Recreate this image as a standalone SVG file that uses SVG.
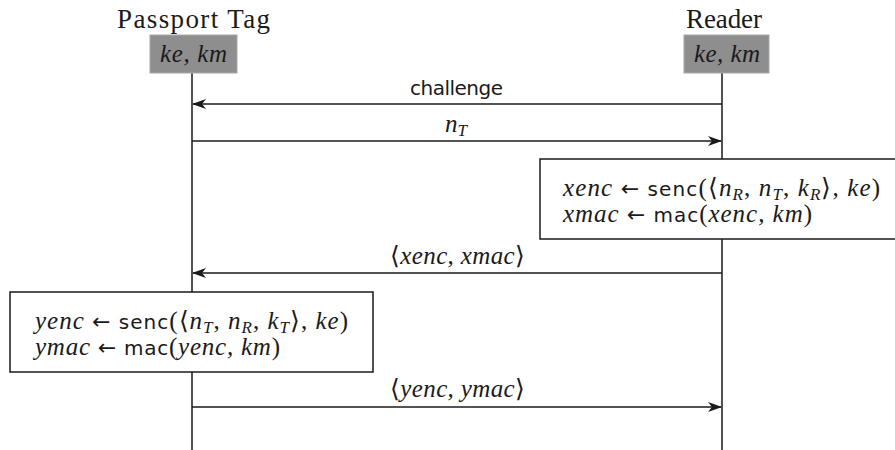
<svg xmlns="http://www.w3.org/2000/svg" width="895" height="450" viewBox="0 0 895 450">
<style>
.hd{font-family:"Liberation Serif",serif;font-size:27px;fill:#1a1a1a}
.t{font-family:"Liberation Serif",serif;font-size:25px;fill:#1a1a1a}
.m{font-style:italic}
.s{font-family:"DejaVu Sans","Liberation Sans",sans-serif;font-size:20px;font-style:normal}
.ar{font-family:"DejaVu Sans",sans-serif;font-size:22px;font-style:normal}
.sub{font-size:17px}
.life{stroke:#1a1a1a;stroke-width:1.5;fill:none}
.msg{stroke:#1a1a1a;stroke-width:1.5;fill:none}
.gbox{fill:#8e8e8e;stroke:#a8a8a8;stroke-width:1}
.cbox{fill:#ffffff;stroke:#1a1a1a;stroke-width:1.5}
</style>
<defs>
<marker id="ah" viewBox="0 0 14 10" refX="13" refY="5" markerWidth="14" markerHeight="10" markerUnits="userSpaceOnUse" orient="auto">
<path d="M0,0 L14,5 L0,10 L4,5 Z" fill="#1a1a1a"/>
</marker>
</defs>
<rect width="895" height="450" fill="#ffffff"/>
<g id="lifelines">
<line class="life" x1="192" y1="73" x2="192" y2="450"/>
<line class="life" x1="722" y1="73" x2="722" y2="450"/>
</g>
<g id="tag">
<text class="hd" x="117" y="28" textLength="153" lengthAdjust="spacing">Passport Tag</text>
<rect class="gbox" x="150" y="35" width="87" height="38"/>
<text class="t m" x="160" y="62" textLength="67" lengthAdjust="spacing">ke, km</text>
</g>
<g id="reader">
<text class="hd" x="686" y="28" textLength="76" lengthAdjust="spacing">Reader</text>
<rect class="gbox" x="684" y="35" width="85" height="38"/>
<text class="t m" x="694" y="62" textLength="66" lengthAdjust="spacing">ke, km</text>
</g>
<g id="connectors">
<line class="msg" x1="722" y1="104" x2="193" y2="104" marker-end="url(#ah)"/>
<text class="s" x="410" y="95" fill="#1a1a1a" textLength="93" lengthAdjust="spacing">challenge</text>
<line class="msg" x1="192" y1="141" x2="721" y2="141" marker-end="url(#ah)"/>
<text class="t" x="445" y="132"><tspan class="m">n</tspan><tspan class="sub m" dy="4">T</tspan></text>
<line class="msg" x1="722" y1="273" x2="193" y2="273" marker-end="url(#ah)"/>
<text class="t" x="390" y="264" textLength="135" lengthAdjust="spacing">⟨<tspan class="m">xenc, xmac</tspan>⟩</text>
<line class="msg" x1="192" y1="407" x2="721" y2="407" marker-end="url(#ah)"/>
<text class="t" x="390" y="397" textLength="135" lengthAdjust="spacing">⟨<tspan class="m">yenc, ymac</tspan>⟩</text>
</g>
<g id="reader-compute">
<rect class="cbox" x="540" y="159" width="365" height="80"/>
<text class="t" x="563" y="196" textLength="317" lengthAdjust="spacing"><tspan class="m">xenc</tspan> <tspan class="ar">←</tspan> <tspan class="s">senc</tspan>(⟨<tspan class="m">n</tspan><tspan class="sub m" dy="4">R</tspan><tspan dy="-4">, </tspan><tspan class="m">n</tspan><tspan class="sub m" dy="4">T</tspan><tspan dy="-4">, </tspan><tspan class="m">k</tspan><tspan class="sub m" dy="4">R</tspan><tspan dy="-4">⟩, </tspan><tspan class="m">ke</tspan>)</text>
<text class="t" x="563" y="222" textLength="249" lengthAdjust="spacing"><tspan class="m">xmac</tspan> <tspan class="ar">←</tspan> <tspan class="s">mac</tspan>(<tspan class="m">xenc, km</tspan>)</text>
</g>
<g id="tag-compute">
<rect class="cbox" x="10" y="292" width="363" height="80"/>
<text class="t" x="35" y="329" textLength="313" lengthAdjust="spacing"><tspan class="m">yenc</tspan> <tspan class="ar">←</tspan> <tspan class="s">senc</tspan>(⟨<tspan class="m">n</tspan><tspan class="sub m" dy="4">T</tspan><tspan dy="-4">, </tspan><tspan class="m">n</tspan><tspan class="sub m" dy="4">R</tspan><tspan dy="-4">, </tspan><tspan class="m">k</tspan><tspan class="sub m" dy="4">T</tspan><tspan dy="-4">⟩, </tspan><tspan class="m">ke</tspan>)</text>
<text class="t" x="35" y="355" textLength="245" lengthAdjust="spacing"><tspan class="m">ymac</tspan> <tspan class="ar">←</tspan> <tspan class="s">mac</tspan>(<tspan class="m">yenc, km</tspan>)</text>
</g>
</svg>
